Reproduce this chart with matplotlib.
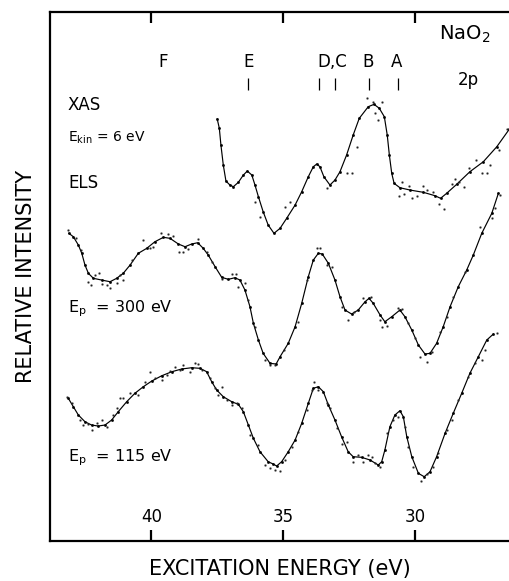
import matplotlib.pyplot as plt
import numpy as np

# peak labels and their energies (eV)
peak_names = ["E", "D", "C", "B", "A"]
peak_energies = [36.34, 33.66, 33.05, 31.76, 30.66]
label_texts = ["F", "E", "D,C", "B", "A"]
label_energies = [39.56, 36.34, 33.16, 31.80, 30.70]

# XAS, E_kin = 6 eV (smoothed curve)
xas_x = [37.51, 37.43, 37.37, 37.28, 37.18, 37.03, 36.90, 36.71, 36.52, 36.37, 36.20, 36.08,
         35.95, 35.77, 35.58, 35.36, 35.13, 34.88, 34.56, 34.31, 34.06, 33.87, 33.74, 33.62,
         33.47, 33.24, 33.05, 32.86, 32.61, 32.36, 32.13, 31.79, 31.57, 31.37, 31.18, 31.07,
         30.99, 30.90, 30.81, 30.59, 30.21, 29.70, 29.26, 29.05, 28.82, 28.44, 27.94, 27.43,
         26.92, 26.45]
xas_y = [42.2, 41.27, 39.6, 37.6, 36.0, 35.6, 35.43, 35.87, 36.6, 37.0, 36.6, 35.6,
         34.43, 32.93, 31.6, 30.77, 31.27, 32.27, 33.6, 34.93, 36.43, 37.43, 37.7, 37.43,
         36.43, 35.6, 36.1, 36.93, 38.6, 40.6, 42.27, 43.43, 43.67, 43.27, 42.43, 40.6,
         38.6, 36.77, 35.77, 35.33, 35.1, 34.87, 34.53, 34.27, 34.77, 35.67, 36.93, 37.93,
         39.43, 41.17]
xas_dot_x = [36.08, 35.89, 34.94, 34.75, 33.34, 32.61, 32.42, 32.23, 31.83, 31.62, 31.26, 31.53,
             31.41, 30.52, 30.61, 30.44, 30.24, 30.12, 29.93, 29.73, 29.55, 29.35, 29.10, 28.92,
             28.63, 28.50, 28.34, 28.16, 27.96, 27.71, 27.49, 27.28, 27.18, 26.83, 26.55]
xas_dot_y = [33.93, 32.43, 33.43, 33.93, 35.27, 36.77, 36.83, 39.43, 44.27, 43.87, 43.87, 42.77,
             42.1, 35.87, 34.53, 34.67, 35.53, 34.33, 34.5, 35.53, 35.1, 34.93, 33.67, 33.2,
             35.67, 36.2, 35.87, 35.43, 37.27, 38.1, 36.77, 36.83, 37.6, 39.1, 41.2]

# ELS, E_p = 300 eV
els300_x = [43.13, 42.96, 42.77, 42.64, 42.52, 42.39, 42.20, 41.89, 41.57, 41.32, 41.07, 40.81,
            40.50, 40.18, 39.87, 39.55, 39.30, 38.98, 38.73, 38.48, 38.25, 38.04, 37.85, 37.59,
            37.34, 37.09, 36.84, 36.65, 36.46, 36.27, 36.14, 35.95, 35.77, 35.51, 35.28, 35.13,
            34.82, 34.56, 34.31, 34.06, 33.87, 33.68, 33.53, 33.30, 33.05, 32.86, 32.67, 32.42,
            32.17, 31.91, 31.76, 31.60, 31.34, 31.16, 30.90, 30.59, 30.40, 30.14, 29.89, 29.64,
            29.45, 29.20, 28.95, 28.69, 28.38, 28.06, 27.81, 27.49, 27.11, 26.86]
els300_y = [30.77, 30.43, 29.6, 28.77, 27.6, 26.77, 26.27, 26.1, 25.93, 26.27, 26.77, 27.6,
            28.77, 29.27, 29.93, 30.37, 30.27, 29.7, 29.43, 29.7, 29.83, 29.27, 28.6, 27.43,
            26.37, 26.17, 26.33, 26.1, 25.1, 23.43, 21.77, 20.1, 18.77, 17.77, 17.7, 18.43,
            19.77, 21.43, 23.77, 26.43, 28.1, 28.77, 28.7, 27.77, 26.1, 24.43, 23.1, 22.7,
            23.1, 23.93, 24.27, 23.77, 22.6, 21.93, 22.43, 23.1, 22.43, 21.1, 19.6, 18.7,
            18.77, 19.77, 21.43, 23.43, 25.43, 27.1, 28.6, 30.77, 32.77, 34.77]
els300_dot_x = [43.15, 42.87, 42.67, 42.39, 42.29, 42.14, 41.98, 41.89, 41.70, 41.57, 41.32, 41.19,
                41.07, 40.75, 40.31, 40.06, 39.93, 39.64, 39.39, 39.17, 38.96, 38.80, 38.63, 38.25,
                37.91, 37.72, 37.32, 36.96, 36.80, 36.71, 36.46, 36.33, 36.08, 35.70, 35.51, 35.32,
                34.97, 34.44, 34.12, 33.74, 33.62, 33.36, 33.17, 32.77, 32.55, 32.32, 31.98, 31.69,
                31.34, 31.28, 31.09, 30.65, 30.50, 30.27, 30.02, 29.83, 29.58, 29.39, 29.07, 28.82,
                28.57, 28.13, 27.56, 27.11, 26.99, 26.80]
els300_dot_y = [31.1, 30.27, 29.1, 25.93, 25.6, 26.6, 26.77, 25.7, 25.6, 25.27, 25.83, 26.6,
                26.1, 28.1, 30.1, 29.27, 29.43, 30.77, 30.7, 30.5, 28.93, 28.93, 29.17, 30.17,
                28.93, 27.93, 26.17, 26.7, 26.67, 25.43, 25.77, 24.1, 21.43, 18.1, 17.6, 17.6,
                19.1, 21.93, 26.1, 29.27, 29.27, 27.6, 27.43, 23.43, 22.1, 22.93, 24.27, 24.37,
                22.1, 21.43, 21.5, 23.27, 23.17, 21.77, 20.27, 18.43, 17.93, 18.93, 20.93, 22.43,
                24.43, 26.93, 31.43, 32.27, 33.27, 34.6]

# ELS, E_p = 115 eV
els115_x = [43.15, 42.96, 42.77, 42.52, 42.27, 42.02, 41.76, 41.51, 41.26, 40.94, 40.63, 40.31,
            39.99, 39.61, 39.23, 38.86, 38.48, 38.16, 37.91, 37.72, 37.53, 37.28, 36.96, 36.71,
            36.52, 36.33, 36.14, 35.89, 35.58, 35.39, 35.26, 35.07, 34.82, 34.56, 34.31, 34.06,
            33.87, 33.68, 33.49, 33.30, 33.05, 32.80, 32.55, 32.36, 32.04, 31.72, 31.41, 31.28,
            31.16, 30.97, 30.78, 30.59, 30.46, 30.33, 30.14, 29.89, 29.67, 29.45, 29.20, 28.88,
            28.57, 28.25, 27.94, 27.62, 27.30, 27.05]
els115_y = [14.27, 13.43, 12.6, 11.93, 11.6, 11.5, 11.6, 12.1, 12.93, 13.93, 14.77, 15.43,
            16.0, 16.53, 16.93, 17.2, 17.33, 17.27, 16.93, 15.93, 15.1, 14.43, 13.93, 13.67,
            12.93, 11.6, 10.27, 8.93, 7.93, 7.7, 7.5, 7.93, 8.93, 10.1, 11.77, 13.77,
            15.27, 15.43, 14.93, 13.6, 12.1, 10.43, 8.93, 8.43, 8.37, 8.1, 7.6, 7.93,
            9.1, 11.43, 12.6, 13.03, 12.43, 10.43, 8.43, 6.77, 6.43, 6.93, 8.43, 10.77,
            12.77, 14.77, 16.77, 18.43, 20.1, 20.7]
els115_dot_x = [43.21, 43.02, 42.71, 42.58, 42.39, 42.27, 42.08, 41.89, 41.70, 41.45, 41.32, 41.19,
                41.07, 40.81, 40.50, 40.25, 40.06, 39.87, 39.61, 39.42, 39.30, 39.11, 38.92, 38.80,
                38.54, 38.35, 38.23, 38.10, 37.78, 37.59, 37.47, 37.34, 37.15, 36.96, 36.77, 36.58,
                36.27, 35.95, 35.70, 35.51, 35.32, 35.13, 34.94, 34.69, 34.44, 34.12, 33.93, 33.83,
                33.68, 33.36, 33.24, 32.98, 32.77, 32.61, 32.36, 32.17, 31.98, 31.79, 31.66, 31.53,
                31.34, 31.09, 30.84, 30.67, 30.40, 30.27, 30.08, 29.79, 29.58, 29.33, 29.14, 28.82,
                28.63, 28.38, 28.00, 27.75, 27.49, 27.37, 26.92]
els115_dot_y = [14.43, 13.77, 12.1, 11.6, 11.67, 11.1, 11.77, 12.1, 11.43, 12.6, 13.27, 14.27,
                14.27, 14.77, 14.6, 15.93, 16.93, 16.27, 16.1, 16.6, 17.0, 17.43, 17.1, 17.6,
                16.93, 17.77, 17.67, 17.1, 16.27, 15.27, 14.6, 15.43, 14.1, 13.6, 13.77, 13.27,
                10.6, 9.6, 7.6, 7.27, 7.1, 7.03, 8.1, 9.43, 10.93, 13.1, 15.1, 15.93,
                15.1, 13.77, 13.27, 11.27, 9.7, 9.93, 7.93, 8.6, 7.93, 8.6, 8.43, 7.83,
                7.43, 10.77, 12.1, 12.43, 11.43, 9.43, 7.43, 6.03, 6.7, 7.43, 8.77, 11.1,
                12.1, 14.1, 16.43, 17.77, 18.1, 19.1, 20.77]

x_ticks = [40, 35, 30]

fig = plt.figure(figsize=(5.10, 5.81), dpi=100)
ax = fig.add_axes([0.098, 0.0688, 0.902, 0.9105])

curves = [(xas_x, xas_y, xas_dot_x, xas_dot_y),
          (els300_x, els300_y, els300_dot_x, els300_dot_y),
          (els115_x, els115_y, els115_dot_x, els115_dot_y)]
for cx, cy, dx, dy in curves:
    ax.plot(cx, cy, color='black', lw=0.85, marker='s', markersize=0.9)
    ax.plot(dx, dy, ls='none', color='#222222', marker='s', markersize=1.0,
            markeredgewidth=0.3)

ax.set_xlim(43.845, 26.42)
ax.set_ylim(0, 52.9)
ax.set_yticks([])
ax.set_xticks(x_ticks)
ax.set_xticklabels([str(t) for t in x_ticks], fontsize=12)
ax.tick_params(axis='x', direction='in', length=8, width=1.6, pad=-24,
               top=True, bottom=True)
ax.spines['right'].set_visible(False)
for s in ['left', 'top', 'bottom']:
    ax.spines[s].set_linewidth(1.6)

ax.set_xlabel('EXCITATION ENERGY (eV)', fontsize=15, labelpad=13)
ax.set_ylabel('RELATIVE INTENSITY', fontsize=15, labelpad=10)

# peak labels and markers
for name, e in zip(label_texts, label_energies):
    ax.text(e, 0.905, name, transform=ax.get_xaxis_transform(),
            ha='center', va='center', fontsize=12)
ax.vlines(peak_energies, 0.853, 0.875, transform=ax.get_xaxis_transform(),
          color='black', lw=0.9)

ax.text(0.845, 0.958, r'NaO$_2$', transform=ax.transAxes, fontsize=14,
        ha='left', va='center')
ax.text(0.91, 0.871, '2p', transform=ax.transAxes, fontsize=12,
        ha='center', va='center')

ax.text(0.039, 0.824, 'XAS', transform=ax.transAxes, fontsize=12, va='center')
ax.text(0.039, 0.762, r'E$_{\rm kin}$ = 6 eV', transform=ax.transAxes,
        fontsize=10, va='center')
ax.text(0.039, 0.677, 'ELS', transform=ax.transAxes, fontsize=12, va='center')
ax.text(0.039, 0.44, r'E$_{\rm p}$  = 300 eV', transform=ax.transAxes,
        fontsize=11.5, va='center')
ax.text(0.039, 0.157, r'E$_{\rm p}$  = 115 eV', transform=ax.transAxes,
        fontsize=11.5, va='center')

fig.savefig('out.png', dpi=100)
